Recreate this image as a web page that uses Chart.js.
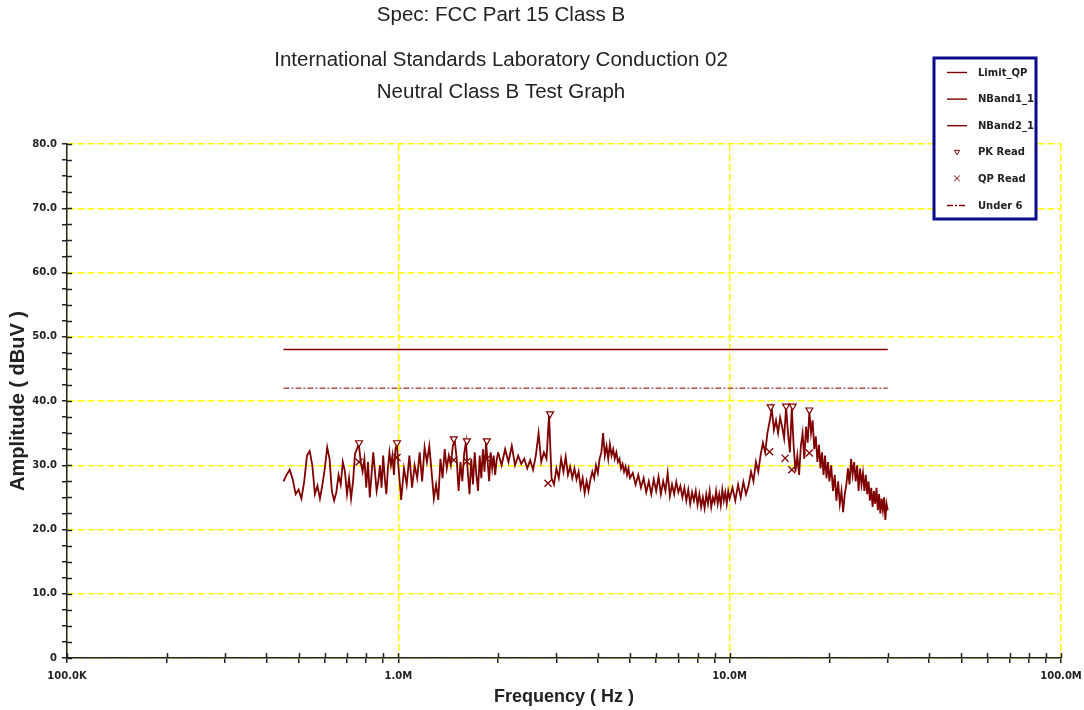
<!DOCTYPE html>
<html>
<head>
<meta charset="utf-8">
<title>Neutral Class B Test Graph</title>
<script src="https://cdn.jsdelivr.net/npm/chart.js"></script>
<style>
  body { margin: 0; background: #fff; }
  #grafico { display: block; }
</style>
</head>
<body>
<canvas id="grafico" width="1084" height="710"></canvas>
<script>
// Titulos del reporte
let titulos = ['Spec: FCC Part 15 Class B', 'International Standards Laboratory Conduction 02', 'Neutral Class B Test Graph'];

// Limites (frecuencia en MHz, amplitud en dBuV)
let limiteFreq = [0.45, 30];
let limiteQP = [48, 48];
let limiteUnder6 = [42, 42];

// Barrido banda 1 (MHz / dBuV)
let banda1Freq = [
    0.45, 0.46, 0.47, 0.48, 0.49, 0.50, 0.51, 0.52, 0.53, 0.54, 0.55, 0.56, 0.57, 0.58, 0.59,
    0.60, 0.61, 0.62, 0.63, 0.64, 0.65, 0.66, 0.67, 0.68, 0.69, 0.70, 0.71, 0.72, 0.73, 0.74,
    0.75, 0.76, 0.77, 0.78, 0.79, 0.80, 0.81, 0.82, 0.83, 0.84, 0.85, 0.86, 0.87, 0.88, 0.89,
    0.90, 0.91, 0.92, 0.93, 0.94, 0.95, 0.96, 0.97, 0.98, 0.99, 1.00,
    1.02, 1.04, 1.06, 1.08, 1.10, 1.12, 1.14, 1.16, 1.18, 1.20, 1.22, 1.24, 1.26, 1.28, 1.30,
    1.32, 1.34, 1.36, 1.38, 1.40, 1.42, 1.44, 1.46, 1.48, 1.50, 1.52, 1.54, 1.56, 1.58, 1.60,
    1.62, 1.64, 1.66, 1.68, 1.70, 1.72, 1.74, 1.76, 1.78, 1.80, 1.82, 1.84, 1.86, 1.88, 1.90,
    1.92, 1.94, 1.96, 1.98, 2.00
];
let banda1Amp = [
    27.5, 28.5, 29.3, 27.8, 25.5, 26.2, 24.8, 27.5, 31.5, 32.2, 30.0, 25.5, 26.8, 24.8, 27.0,
    29.5, 32.8, 31.0, 26.0, 24.5, 25.8, 28.5, 27.0, 30.5, 29.0, 25.5, 28.0, 24.8, 27.5, 31.8,
    32.5, 33.3, 30.5, 29.0, 31.0, 26.5, 30.5, 25.0, 28.5, 32.0, 29.0, 26.0, 27.5, 30.0, 26.5,
    31.5, 28.0, 25.5, 29.5, 32.0, 30.0, 31.5, 28.5, 32.5, 33.3, 30.0,
    24.6, 29.5, 27.0, 31.5, 26.5, 30.0, 28.0, 32.0, 27.5, 32.8, 30.5, 33.0, 29.0, 24.8, 27.0,
    24.6, 31.0, 28.0, 32.5, 29.5, 31.5, 30.0, 33.0, 33.9, 31.0, 26.0, 30.5, 27.5, 31.8, 33.6,
    29.0, 25.5, 31.0, 27.0, 32.0, 28.5, 26.0, 31.5, 28.0, 32.5, 29.0, 33.6, 30.5, 27.5, 32.0,
    29.5, 31.5, 28.5, 30.8, 32.0
];

// Barrido banda 2 (MHz / dBuV)
let banda2Freq = [
    2.00, 2.05, 2.10, 2.15, 2.20, 2.25, 2.30, 2.35, 2.40, 2.45, 2.50, 2.55, 2.60, 2.65, 2.70,
    2.75, 2.80, 2.85, 2.90, 2.95, 3.00, 3.05, 3.10, 3.15, 3.20, 3.25, 3.30, 3.35, 3.40, 3.45,
    3.50, 3.55, 3.60, 3.65, 3.70, 3.75, 3.80, 3.85, 3.90, 3.95, 4.00, 4.05, 4.10, 4.15, 4.20,
    4.25, 4.30, 4.35, 4.40, 4.45, 4.50, 4.55, 4.60, 4.65, 4.70, 4.75, 4.80, 4.85, 4.90, 4.95, 5.00,
    5.1, 5.2, 5.3, 5.4, 5.5, 5.6, 5.7, 5.8, 5.9, 6.0, 6.1, 6.2, 6.3, 6.4, 6.5, 6.6, 6.7, 6.8, 6.9, 7.0,
    7.1, 7.2, 7.3, 7.4, 7.5, 7.6, 7.7, 7.8, 7.9, 8.0, 8.1, 8.2, 8.3, 8.4, 8.5, 8.6, 8.7, 8.8, 8.9, 9.0,
    9.1, 9.2, 9.3, 9.4, 9.5, 9.6, 9.7, 9.8, 9.9, 10.0,
    10.2, 10.4, 10.6, 10.8, 11.0, 11.2, 11.4, 11.6, 11.8, 12.0, 12.2, 12.4, 12.6, 12.8, 13.0,
    13.2, 13.4, 13.6, 13.8, 14.0, 14.2, 14.4, 14.6, 14.8, 15.0, 15.2, 15.4, 15.6, 15.8, 16.0,
    16.2, 16.4, 16.6, 16.8, 17.0, 17.2, 17.4, 17.6, 17.8, 18.0, 18.2, 18.4, 18.6, 18.8, 19.0,
    19.2, 19.4, 19.6, 19.8, 20.0,
    20.25, 20.5, 20.75, 21.0, 21.25, 21.5, 21.75, 22.0, 22.25, 22.5, 22.75, 23.0, 23.25, 23.5,
    23.75, 24.0, 24.25, 24.5, 24.75, 25.0, 25.25, 25.5, 25.75, 26.0, 26.25, 26.5, 26.75, 27.0,
    27.25, 27.5, 27.75, 28.0, 28.25, 28.5, 28.75, 29.0, 29.25, 29.5, 29.75, 30.0
];
let banda2Amp = [
    32.0, 30.0, 32.5, 30.5, 33.0, 30.0, 31.5, 30.2, 31.0, 29.5, 30.8, 29.3, 31.5, 35.0, 30.5,
    32.0, 31.0, 37.8, 28.0, 27.0, 29.5, 28.0, 31.0, 29.0, 31.3, 28.5, 29.8, 28.0, 29.5, 27.8,
    29.0, 26.5, 28.0, 25.7, 27.5, 26.0, 27.8, 29.0, 28.0, 30.0, 28.8, 31.0, 32.0, 35.0, 31.5,
    33.0, 31.0, 33.3, 31.5, 32.5, 31.0, 32.0, 30.5, 31.0, 29.5, 30.2, 29.0, 29.8, 28.5, 29.5, 28.0,
    28.8, 27.0, 28.5, 26.5, 28.0, 25.8, 27.5, 25.5, 27.8, 26.0, 28.2, 25.5, 27.5, 26.0, 28.8, 25.2, 27.0, 25.5, 27.4, 25.8,
    26.8, 25.0, 26.5, 24.5, 26.2, 24.0, 25.8, 24.5, 26.0, 23.8, 25.5, 23.5, 25.0, 23.3, 25.5, 24.0, 26.0, 23.5, 25.0, 24.2,
    26.0, 24.0, 25.5, 23.8, 26.2, 24.5, 25.8, 24.0, 26.0, 24.8,
    26.5, 24.5, 27.0, 25.0, 27.4, 25.5, 26.8, 29.0, 27.5, 30.5, 29.0, 31.6, 33.5, 32.0, 35.0,
    36.8, 38.8, 35.5, 37.0, 35.0, 37.4, 36.0, 34.2, 39.0, 35.0, 32.0, 39.0, 33.0, 29.0, 31.5,
    28.5, 33.0, 35.0, 31.0, 36.0, 33.5, 38.4, 35.0, 37.0, 32.5, 34.5, 30.5, 33.2, 29.5, 32.0,
    28.5, 31.5, 28.0, 30.5, 27.5,
    30.0, 26.0, 28.5, 24.5, 27.5, 24.0, 26.0, 22.7, 25.5, 27.0, 29.5, 27.0, 31.0, 28.5,
    30.5, 27.5, 30.0, 26.0, 29.5, 27.0, 28.8, 26.0, 28.5, 25.5, 27.5, 24.5, 26.5, 23.5,
    26.0, 24.0, 26.5, 23.0, 25.5, 22.5, 24.8, 23.0, 25.0, 21.5, 24.0, 23.0
];

// Lecturas pico y cuasi-pico
let pkFreq = [0.761, 0.991, 1.47, 1.61, 1.85, 2.87, 13.3, 14.8, 15.5, 17.4];
let pkAmp = [33.5, 33.5, 34.1, 33.8, 33.8, 38.0, 39.1, 39.2, 39.2, 38.6];
let qpFreq = [0.761, 0.991, 1.47, 1.61, 1.85, 2.83, 13.2, 14.7, 15.4, 17.4];
let qpAmp = [30.5, 31.2, 30.8, 30.6, 31.0, 27.2, 32.1, 31.1, 29.3, 31.9];

// Ticks del eje de frecuencia (Hz)
let xTicks = [
    1e5, 2e5, 3e5, 4e5, 5e5, 6e5, 7e5, 8e5, 9e5,
    1e6, 2e6, 3e6, 4e6, 5e6, 6e6, 7e6, 8e6, 9e6,
    1e7, 2e7, 3e7, 4e7, 5e7, 6e7, 7e7, 8e7, 9e7, 1e8
];
let xMayores = [1e5, 1e6, 1e7, 1e8];
let xEtiquetas = ['100.0K', '1.0M', '10.0M', '100.0M'];

const rojo = '#7f0000';
const amarillo = '#ffff00';
const negro = '#222222';
const fuenteTicks = { family: 'DejaVu Sans', weight: 'bold', size: 10 };

function puntos(freqs, amps) {
    return freqs.map((f, i) => ({ x: f * 1e6, y: amps[i] }));
}

// Titulos centrados como en el reporte original
const titulosPlugin = {
    id: 'titulos',
    afterDraw(chart) {
        let ctx = chart.ctx;
        let bases = [21, 66, 98];
        ctx.save();
        ctx.font = '20.5px "Liberation Sans", Arial, sans-serif';
        ctx.fillStyle = negro;
        ctx.textAlign = 'center';
        ctx.textBaseline = 'alphabetic';
        titulos.forEach((t, i) => ctx.fillText(t, 501, bases[i]));
        ctx.restore();
    }
};

// Parte interna de las marcas de los ejes
const marcasPlugin = {
    id: 'marcas',
    afterDraw(chart) {
        let ctx = chart.ctx;
        let area = chart.chartArea;
        let sx = chart.scales.x;
        let sy = chart.scales.y;
        ctx.save();
        ctx.strokeStyle = negro;
        ctx.lineWidth = 1.5;
        ctx.beginPath();
        sx.ticks.forEach(t => {
            let px = Math.round(sx.getPixelForValue(t.value)) + 0.5;
            ctx.moveTo(px, area.bottom);
            ctx.lineTo(px, area.bottom - 5);
        });
        sy.ticks.forEach(t => {
            let py = Math.round(sy.getPixelForValue(t.value)) + 0.5;
            ctx.moveTo(area.left, py);
            ctx.lineTo(area.left + 5, py);
        });
        ctx.stroke();
        ctx.restore();
    }
};

// Leyenda en caja azul encima del grafico
const leyendaPlugin = {
    id: 'leyendaCaja',
    afterDraw(chart) {
        let ctx = chart.ctx;
        let caja = { x: 934, y: 58, w: 102, h: 161 };
        ctx.save();
        ctx.fillStyle = '#ffffff';
        ctx.fillRect(caja.x, caja.y, caja.w, caja.h);
        ctx.lineWidth = 3;
        ctx.strokeStyle = '#0a0a8c';
        ctx.strokeRect(caja.x, caja.y, caja.w, caja.h);
        ctx.beginPath();
        ctx.rect(caja.x + 2, caja.y + 2, caja.w - 4, caja.h - 4);
        ctx.clip();
        chart.data.datasets.forEach((ds, i) => {
            let y = 72 + i * 26.6;
            ctx.strokeStyle = ds.borderColor;
            ctx.fillStyle = '#ffffff';
            if (ds.showLine === false) {
                ctx.lineWidth = 1;
                Chart.helpers.drawPoint(ctx, {
                    pointStyle: ds.pointStyle,
                    rotation: ds.pointRotation || 0,
                    radius: ds.pointStyle === 'crossRot' ? 4 : 3,
                    borderWidth: 1
                }, 957, y);
            } else {
                ctx.lineWidth = 1.4;
                ctx.setLineDash(ds.borderDash || []);
                ctx.beginPath();
                ctx.moveTo(947, y + 0.5);
                ctx.lineTo(967, y + 0.5);
                ctx.stroke();
                ctx.setLineDash([]);
            }
            ctx.fillStyle = negro;
            ctx.font = 'bold 10px "DejaVu Sans"';
            ctx.textAlign = 'left';
            ctx.textBaseline = 'middle';
            ctx.fillText(ds.label, 978, y + 1);
        });
        ctx.restore();
    }
};

let grafico = new Chart(document.getElementById('grafico'), {
    type: 'line',
    data: {
        datasets: [
            { label: 'Limit_QP', data: puntos(limiteFreq, limiteQP), borderColor: rojo, borderWidth: 1.5, pointRadius: 0, order: 2 },
            { label: 'NBand1_1', data: puntos(banda1Freq, banda1Amp), borderColor: rojo, borderWidth: 1.8, pointRadius: 0, order: 2 },
            { label: 'NBand2_1', data: puntos(banda2Freq, banda2Amp), borderColor: rojo, borderWidth: 1.8, pointRadius: 0, order: 2 },
            {
                label: 'PK Read', data: puntos(pkFreq, pkAmp), showLine: false, borderColor: rojo,
                pointStyle: 'triangle', pointRotation: 180, pointRadius: 4, pointBorderWidth: 1.2,
                pointBackgroundColor: '#ffffff', pointBorderColor: rojo, order: 0
            },
            {
                label: 'QP Read', data: puntos(qpFreq, qpAmp), showLine: false, borderColor: rojo,
                pointStyle: 'crossRot', pointRadius: 5, pointBorderWidth: 1.3,
                pointBorderColor: rojo, order: 0
            },
            { label: 'Under 6', data: puntos(limiteFreq, limiteUnder6), borderColor: rojo, borderWidth: 1, borderDash: [6, 2, 2, 2], pointRadius: 0, order: 1 }
        ]
    },
    options: {
        responsive: false,
        animation: false,
        layout: { padding: { top: 144, right: 23, left: 0, bottom: 0 } },
        elements: { line: { tension: 0 } },
        plugins: {
            legend: { display: false },
            title: { display: false },
            tooltip: { enabled: false }
        },
        scales: {
            x: {
                type: 'logarithmic',
                min: 1e5,
                max: 1e8,
                afterBuildTicks: (scale) => {
                    scale.ticks = xTicks.map(v => ({ value: v }));
                },
                afterFit: (scale) => {
                    // alto fijo y sin relleno lateral extra
                    scale.height = 52;
                    scale.paddingLeft = 0;
                    scale.paddingRight = 0;
                },
                ticks: {
                    autoSkip: false,
                    maxRotation: 0,
                    padding: 7,
                    color: negro,
                    font: fuenteTicks,
                    callback: (v) => {
                        let i = xMayores.indexOf(v);
                        return i >= 0 ? xEtiquetas[i] : '';
                    }
                },
                grid: {
                    color: (c) => (c.tick && xMayores.includes(c.tick.value)) ? amarillo : 'rgba(0,0,0,0)',
                    lineWidth: 1.5,
                    tickLength: 5,
                    tickColor: negro,
                    tickWidth: 1.5,
                    borderDash: [7, 3]
                },
                border: { display: true, color: negro, width: 1.5, dash: [7, 3] },
                title: {
                    display: true,
                    text: 'Frequency ( Hz )',
                    color: negro,
                    font: { family: 'Liberation Sans', weight: 'bold', size: 18 },
                    padding: { top: 0, bottom: 2 }
                }
            },
            y: {
                type: 'linear',
                min: 0,
                max: 80,
                afterFit: (scale) => { scale.width = 67; },
                ticks: {
                    stepSize: 2.5,
                    autoSkip: false,
                    padding: 5,
                    color: negro,
                    font: fuenteTicks,
                    callback: (v) => {
                        if (v % 10 !== 0) return '';
                        return v === 0 ? '0' : v.toFixed(1);
                    }
                },
                grid: {
                    color: (c) => (c.tick && c.tick.value % 10 === 0) ? amarillo : 'rgba(0,0,0,0)',
                    lineWidth: 1.5,
                    tickLength: 5,
                    tickColor: negro,
                    tickWidth: 1.5,
                    borderDash: [7, 3]
                },
                border: { display: true, color: negro, width: 1.5, dash: [7, 3] },
                title: {
                    display: true,
                    text: 'Amplitude ( dBuV )',
                    color: negro,
                    font: { family: 'Liberation Sans', weight: 'bold', size: 20 },
                    padding: { top: 6, bottom: 0 }
                }
            }
        }
    },
    plugins: [titulosPlugin, marcasPlugin, leyendaPlugin]
});
</script>
</body>
</html>
